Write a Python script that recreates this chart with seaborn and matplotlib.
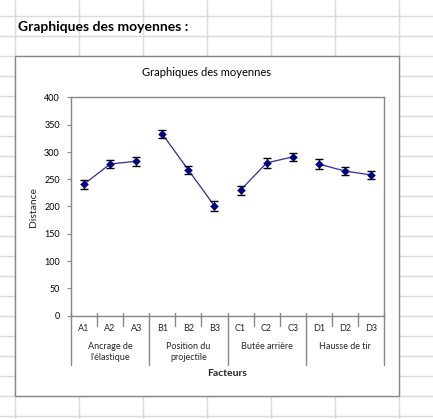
import matplotlib
matplotlib.use("Agg")
import matplotlib.pyplot as plt
import matplotlib.transforms as mtransforms
from matplotlib.patches import Rectangle
from matplotlib.lines import Line2D
import seaborn as sns
import pandas as pd

# Data
niveaux = ['A1', 'A2', 'A3', 'B1', 'B2', 'B3', 'C1', 'C2', 'C3', 'D1', 'D2', 'D3']
facteurs = ["Ancrage de\nl'élastique"] * 3 + ["Position du\nprojectile"] * 3 + \
           ["Butée arrière"] * 3 + ["Hausse de tir"] * 3
moyennes = [241, 278, 283, 333, 267, 201, 230, 280, 291, 278, 265, 258]
erreurs = [8, 8, 8, 8, 8, 9, 8, 9, 8, 9, 8, 8]
groupes = ["Ancrage de\nl'élastique", "Position du\nprojectile", "Butée arrière", "Hausse de tir"]

sns.set_theme(style="white")
plt.rcParams['font.family'] = ['Lato', 'DejaVu Sans']

W, H = 433, 419
fig = plt.figure(figsize=(W / 100, H / 100), dpi=100)
fig.patch.set_facecolor('white')

# spreadsheet grid in the background
grid_col = '#dadada'
for gx in [15, 79, 143, 207, 271, 335, 399]:
    fig.add_artist(Line2D([gx / W, gx / W], [0, 1], color=grid_col, lw=1, zorder=0))
for gy in range(16, H, 20):
    fig.add_artist(Line2D([0, 1], [1 - gy / H, 1 - gy / H], color=grid_col, lw=1, zorder=0))

# sheet heading
fig.text(18 / W, 1 - 27 / H, "Graphiques des moyennes :", fontsize=10, fontweight='bold',
         color='black', va='center', ha='left')

# chart box
box_l, box_t, box_r, box_b = 15, 56, 399, 396
fig.add_artist(Rectangle((box_l / W, 1 - box_b / H), (box_r - box_l) / W, (box_b - box_t) / H,
                         transform=fig.transFigure, facecolor='white', edgecolor='#868686',
                         lw=1, zorder=1))
fig.text(207 / W, 1 - 73 / H, "Graphiques des moyennes", fontsize=8, color='black',
         ha='center', va='center', zorder=3)

# plot area
pl, pt, pr, pb = 71, 97.5, 384, 315.5
ax = fig.add_axes([pl / W, 1 - pb / H, (pr - pl) / W, (pb - pt) / H], zorder=2)
ax.set_facecolor('white')

df = pd.DataFrame({'niveau': niveaux, 'facteur': facteurs, 'moyenne': moyennes, 'erreur': erreurs})
df['pos'] = range(len(df))

sns.lineplot(data=df, x='pos', y='moyenne', hue='facteur', hue_order=groupes,
             palette=['#2b2b9a'] * 4, lw=0.9, legend=False, ax=ax, zorder=3)
ax.errorbar(df['pos'], df['moyenne'], yerr=df['erreur'], fmt='none', ecolor='black',
            elinewidth=1, capsize=3, capthick=1, zorder=4)
sns.scatterplot(data=df, x='pos', y='moyenne', marker='D', s=16, color='#000080',
                edgecolor='#000080', legend=False, ax=ax, zorder=5)

ax.set_xlim(-0.5, len(niveaux) - 0.5)
ax.set_ylim(0, 400)
ax.set_yticks(range(0, 401, 50))
ax.tick_params(axis='y', labelsize=6.5, length=3, width=0.8, color='#868686', pad=5,
               left=True, labelcolor='black')
ax.set_xticks([])
ax.set_xlabel('')
ax.set_ylabel('Distance', fontsize=7.5)
ax.yaxis.set_label_coords((38 - pl) / (pr - pl), 0.5 - (207 - (pt + pb) / 2) / (pb - pt))
for s in ax.spines.values():
    s.set_color('#868686')
    s.set_linewidth(1)

# category axis: labels and separators
trans = mtransforms.blended_transform_factory(ax.transData, ax.transAxes)
px_h = pb - pt
def ay(ypix):
    return (pb - ypix) / px_h

for i, nv in enumerate(niveaux):
    ax.text(i, ay(328.5), nv, transform=trans, ha='center', va='center', fontsize=6.5,
            clip_on=False)
for b in range(0, len(niveaux) + 1):
    bottom = 365 if b % 3 == 0 else 326
    ax.plot([b - 0.5, b - 0.5], [ay(312.5), ay(bottom)], transform=trans, color='#868686',
            lw=1, clip_on=False, zorder=3)
for g, lab in enumerate(groupes):
    ax.text(3 * g + 1, ay(342), lab, transform=trans, ha='center', va='top',
            fontsize=6.5, linespacing=1.35, clip_on=False)
ax.text(5.5, ay(373), 'Facteurs', transform=trans, ha='center', va='center', fontsize=7.5,
        fontweight='bold', clip_on=False)

fig.savefig('out.png', dpi=100)
